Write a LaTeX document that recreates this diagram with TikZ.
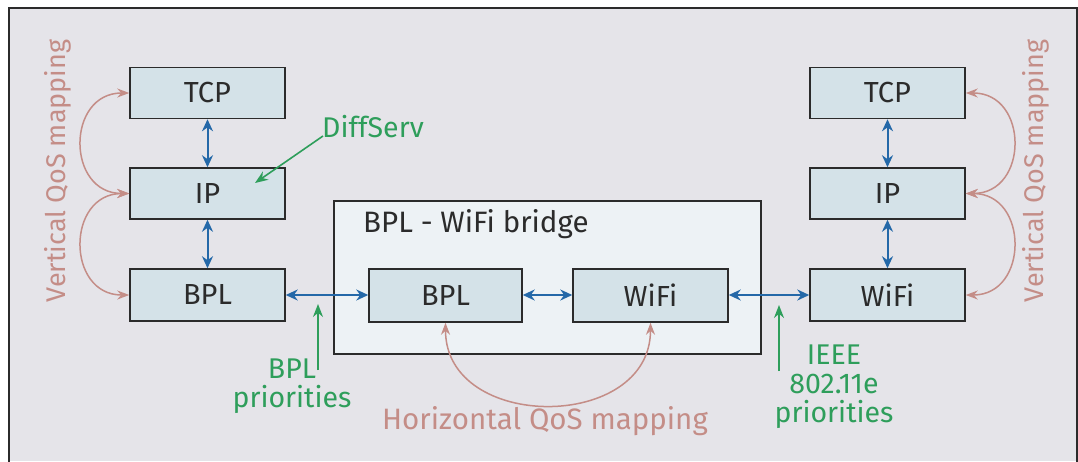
\documentclass[tikz,border=0pt]{standalone}
\usepackage{fontspec}
\setmainfont{Fira Sans}
\usetikzlibrary{arrows.meta}
\definecolor{bgc}{HTML}{E5E4E9}
\definecolor{boxc}{HTML}{D4E2E8}
\definecolor{bridgec}{HTML}{EDF2F5}
\definecolor{bluec}{HTML}{2468A8}
\definecolor{greenc}{HTML}{2E9E5B}
\definecolor{rosec}{HTML}{C48D87}
\definecolor{linec}{HTML}{2B2B2B}
\tikzset{
  layer/.style={draw=linec, line width=1.5pt, fill=boxc, minimum width=155pt, minimum height=51pt, inner sep=0pt, font=\fontsize{29}{32}\selectfont, text=linec},
  barrow/.style={draw=bluec, line width=2pt, {Stealth[length=12pt,width=11pt]}-{Stealth[length=12pt,width=11pt]}},
  garrow/.style={draw=greenc, line width=1.6pt, -{Stealth[length=13pt,width=10pt]}},
  rarrow/.style={draw=rosec, line width=1.5pt, {Stealth[length=12pt,width=9pt]}-{Stealth[length=12pt,width=9pt]}},
  gtext/.style={text=greenc, font=\fontsize{28.5}{29}\selectfont, align=center, inner sep=0pt},
  rtext/.style={text=rosec, font=\fontsize{29.5}{32}\selectfont, inner sep=0pt},
}
\begin{document}
\begin{tikzpicture}[x=1pt,y=-1pt]
\useasboundingbox (0,0) rectangle (1078,461);
\fill[white] (0,0) rectangle (1078,461);
\fill[bgc] (9,8) rectangle (1078,461);
\draw[linec, line width=1.5pt] (9,470) -- (9,8) -- (1077,8) -- (1077,470);

% bridge
\node[draw=linec, line width=1.5pt, fill=bridgec, minimum width=427pt, minimum height=153pt, inner sep=0pt] (bridge) at (547.5,277.5) {};
\node[anchor=west, inner sep=0pt, font=\fontsize{29.5}{32}\selectfont, text=linec] (bridgelbl) at (363,224) {BPL - WiFi bridge};

% left stack
\node[layer] (tcpl) at (207.5,93) {TCP};
\node[layer] (ipl) at (207.5,193.5) {IP};
\node[layer, minimum height=52pt] (bpll) at (207.5,295) {BPL};
% right stack
\node[layer] (tcpr) at (887.5,93) {TCP};
\node[layer] (ipr) at (887.5,193.5) {IP};
\node[layer, minimum height=52pt] (wifir) at (887.5,295) {WiFi};
% bridge inner
\node[layer, minimum width=153pt, minimum height=53pt] (bplm) at (445.5,295.5) {BPL};
\node[layer, minimum height=53pt] (wifim) at (650.5,295.5) {WiFi};

% blue arrows
\draw[barrow] (tcpl) -- (ipl);
\draw[barrow] (ipl) -- (bpll);
\draw[barrow] (tcpr) -- (ipr);
\draw[barrow] (ipr) -- (wifir);
\draw[barrow] (bpll.east |- 0,295) -- (bplm.west |- 0,295);
\draw[barrow] (bplm.east |- 0,295) -- (wifim.west |- 0,295);
\draw[barrow] (wifim.east |- 0,295) -- (wifir.west |- 0,295);

% green labels
\node[gtext, anchor=west] (diffserv) at (322,127) {DiffServ};
\coordinate (dsend) at (255,183);
\draw[garrow] (323,136) -- (dsend);

\node[gtext] (bplprio) at (292,386) {BPL\\priorities};
\coordinate (bpltip) at (318,304);
\draw[garrow] (318,370) -- (bpltip);

\node[gtext] (ieeeprio) at (834,387) {IEEE\\802.11e\\priorities};
\coordinate (ieeetip) at (779,305);
\draw[garrow] (779,371) -- (ieeetip);

% rose mapping
\draw[rarrow] (bplm.south) .. controls (445.5,432) and (650.5,432) .. (wifim.south);
\node[rtext] (hqos) at (545,421) {Horizontal QoS mapping};

\draw[rarrow] (tcpl.west) .. controls (66,93) and (66,193.5) .. (ipl.west);
\draw[rarrow] (ipl.west) .. controls (66,193.5) and (66,295) .. (bpll.west);
\node[rtext, rotate=90, font=\fontsize{27}{30}\selectfont] (vqosl) at (57.5,171) {Vertical QoS mapping};

\draw[rarrow] (tcpr.east) .. controls (1029,93) and (1029,193.5) .. (ipr.east);
\draw[rarrow] (ipr.east) .. controls (1029,193.5) and (1029,295) .. (wifir.east);
\node[rtext, rotate=90, font=\fontsize{27}{30}\selectfont] (vqosr) at (1036,171) {Vertical QoS mapping};
\end{tikzpicture}
\end{document}
